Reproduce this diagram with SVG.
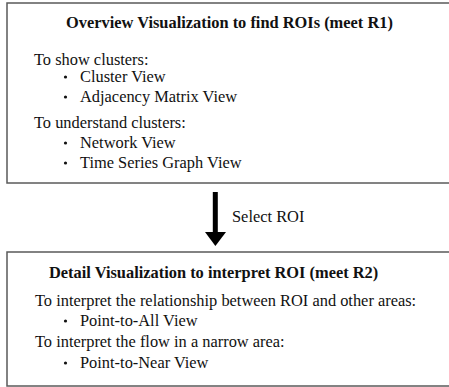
<svg xmlns="http://www.w3.org/2000/svg" width="449" height="387" viewBox="0 0 449 387">
  <style>
    .box { fill: #ffffff; stroke: #5a5a5a; stroke-width: 1.5; }
    .title { font-family: "Liberation Serif", "Times New Roman", serif; font-size: 16.4px; font-weight: bold; fill: #111111; }
    .txt { font-family: "Liberation Serif", "Times New Roman", serif; font-size: 16.4px; fill: #111111; }
    .bullet { fill: #111111; }
    .arrow { fill: #000000; }
  </style>
  <rect x="0" y="0" width="449" height="387" fill="#ffffff"/>

  <!-- upper panel: overview views -->
  <g id="overview">
    <rect class="box" x="7" y="3" width="450" height="180"/>
    <text class="title" x="66" y="28">Overview Visualization to find ROIs (meet R1)</text>
    <text class="txt" x="34" y="65">To show clusters:</text>
    <circle class="bullet" cx="65.5" cy="77" r="1.6"/>
    <text class="txt" x="80" y="82">Cluster View</text>
    <circle class="bullet" cx="65.5" cy="97" r="1.6"/>
    <text class="txt" x="80" y="102">Adjacency Matrix View</text>
    <text class="txt" x="34" y="128">To understand clusters:</text>
    <circle class="bullet" cx="65.5" cy="143" r="1.6"/>
    <text class="txt" x="80" y="148">Network View</text>
    <circle class="bullet" cx="65.5" cy="163" r="1.6"/>
    <text class="txt" x="80" y="168">Time Series Graph View</text>
  </g>

  <!-- transition arrow between panels -->
  <g id="connectors">
    <rect class="arrow" x="212.8" y="192" width="5" height="41"/>
    <polygon class="arrow" points="205,232 226,232 215.4,246"/>
    <text class="txt" x="232" y="222">Select ROI</text>
  </g>

  <!-- lower panel: detail views -->
  <g id="detail">
    <rect class="box" x="7" y="252" width="450" height="134"/>
    <text class="title" x="49" y="278">Detail Visualization to interpret ROI (meet R2)</text>
    <text class="txt" x="35" y="306">To interpret the relationship between ROI and other areas:</text>
    <circle class="bullet" cx="65.5" cy="321" r="1.6"/>
    <text class="txt" x="80" y="326">Point-to-All View</text>
    <text class="txt" x="35" y="347">To interpret the flow in a narrow area:</text>
    <circle class="bullet" cx="65.5" cy="363" r="1.6"/>
    <text class="txt" x="80" y="368">Point-to-Near View</text>
  </g>
</svg>
